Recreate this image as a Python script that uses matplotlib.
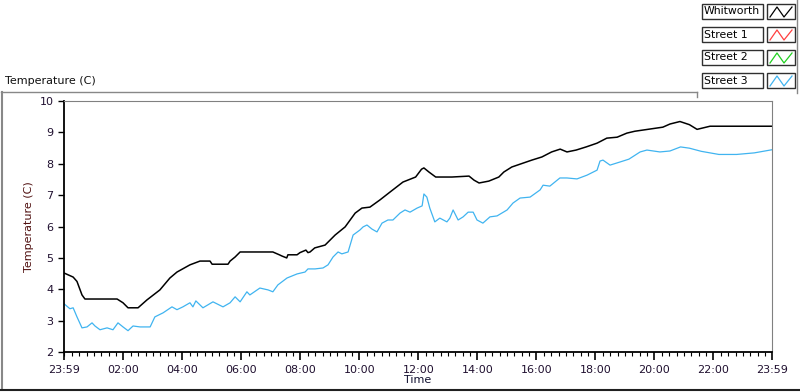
import matplotlib.pyplot as plt
from matplotlib.lines import Line2D
from matplotlib.patches import Rectangle
import numpy as np

# hours since 23:59 and temperatures
whit_t = [0, 0.31, 0.44, 0.61, 0.71, 1.8, 2.0, 2.17, 2.51, 2.81, 3.25, 3.59, 3.83,
          4.27, 4.61, 4.95, 5.02, 5.56, 5.63, 5.8, 5.97, 7.08, 7.3, 7.39, 7.55, 7.59,
          7.9, 8.0, 8.2, 8.27, 8.34, 8.5, 8.85, 9.19, 9.53, 9.87, 10.1, 10.37, 10.71,
          11.05, 11.49, 11.92, 12.12, 12.2, 12.37, 12.6, 13.15, 13.73, 13.9, 14.07,
          14.4, 14.74, 14.91, 15.18, 15.86, 16.2, 16.53, 16.82, 17.05, 17.36, 17.7,
          18.07, 18.4, 18.75, 19.08, 19.35, 20.3, 20.54, 20.88, 21.2, 21.46, 21.9, 24]
whit_v = [4.52, 4.39, 4.25, 3.82, 3.69, 3.69, 3.57, 3.41, 3.41, 3.66, 3.98, 4.36, 4.55,
          4.78, 4.9, 4.9, 4.8, 4.8, 4.9, 5.03, 5.19, 5.19, 5.1, 5.06, 5.0, 5.1,
          5.1, 5.17, 5.25, 5.17, 5.19, 5.32, 5.41, 5.73, 5.99, 6.43, 6.59, 6.62, 6.85,
          7.1, 7.42, 7.58, 7.83, 7.87, 7.74, 7.58, 7.58, 7.61, 7.48, 7.39,
          7.45, 7.58, 7.74, 7.9, 8.12, 8.22, 8.38, 8.47, 8.38, 8.44, 8.54,
          8.66, 8.82, 8.85, 8.98, 9.04, 9.17, 9.27, 9.35, 9.25, 9.1, 9.2, 9.2]

st3_t = [0, 0.2, 0.31, 0.44, 0.61, 0.78, 0.95, 1.05, 1.22, 1.46, 1.66, 1.83, 2.0,
         2.17, 2.34, 2.58, 2.92, 3.08, 3.36, 3.66, 3.83, 4.03, 4.27, 4.37, 4.47,
         4.71, 5.05, 5.39, 5.63, 5.8, 5.97, 6.2, 6.3, 6.64, 6.92, 7.08, 7.25, 7.56,
         7.9, 8.17, 8.27, 8.51, 8.78, 8.95, 9.12, 9.29, 9.42, 9.63, 9.8, 10.03, 10.14,
         10.27, 10.44, 10.61, 10.78, 10.98, 11.15, 11.39, 11.56, 11.73, 11.97, 12.14,
         12.2, 12.3, 12.4, 12.57, 12.74, 12.98, 13.08, 13.19, 13.36, 13.53, 13.7,
         13.87, 14.0, 14.2, 14.44, 14.68, 15.02, 15.22, 15.46, 15.8, 16.14, 16.24,
         16.47, 16.81, 17.05, 17.39, 17.73, 18.07, 18.17, 18.27, 18.51, 18.85, 19.15,
         19.53, 19.76, 20.2, 20.54, 20.9, 21.2, 21.6, 22.2, 22.8, 23.4, 24]
st3_v = [3.54, 3.38, 3.41, 3.12, 2.77, 2.8, 2.93, 2.83, 2.71, 2.77, 2.71, 2.93, 2.8,
         2.68, 2.83, 2.8, 2.8, 3.12, 3.25, 3.44, 3.35, 3.44, 3.57, 3.44, 3.63,
         3.41, 3.6, 3.44, 3.57, 3.76, 3.6, 3.92, 3.82, 4.04, 3.98, 3.92, 4.14, 4.36,
         4.49, 4.55, 4.65, 4.65, 4.68, 4.78, 5.03, 5.19, 5.13, 5.19, 5.73, 5.89, 5.99,
         6.05, 5.92, 5.83, 6.11, 6.21, 6.21, 6.43, 6.53, 6.46, 6.59, 6.66,
         7.04, 6.94, 6.59, 6.15, 6.27, 6.15, 6.27, 6.53, 6.21, 6.31, 6.46,
         6.46, 6.21, 6.11, 6.31, 6.34, 6.53, 6.75, 6.91, 6.94, 7.17, 7.32,
         7.29, 7.55, 7.55, 7.52, 7.64, 7.8, 8.09, 8.12, 7.96, 8.06, 8.15,
         8.38, 8.44, 8.38, 8.41, 8.54, 8.5, 8.4, 8.3, 8.3, 8.35, 8.45]

series = ['Whitworth', 'Street 1', 'Street 2', 'Street 3']
colors = ['#000000', '#ff4040', '#20d020', '#40b4f0']

major_t = [0] + [1 / 60 + 2 * k for k in range(1, 12)] + [24]
major_lab = ['23:59'] + ['%02d:00' % (2 * k) for k in range(1, 12)] + ['23:59']
minor_t = [1 / 60 + 0.25 * k for k in range(96)]

fig = plt.figure(figsize=(8, 3.92), dpi=100)
plt.rcParams['font.family'] = 'DejaVu Sans'
ax = fig.add_axes([0.08, 0.102, 0.885, 0.640])

ax.plot(whit_t, whit_v, color=colors[0], lw=1.1)
ax.plot(st3_t, st3_v, color=colors[3], lw=0.9)

ax.set_xlim(0, 24)
ax.set_ylim(2, 10)
ax.set_xticks(major_t)
ax.set_xticklabels(major_lab)
ax.set_xticks(minor_t, minor=True)
ax.set_yticks(range(2, 11))
ax.tick_params(axis='both', labelsize=8, colors='black', labelcolor='#201030')
ax.tick_params(axis='x', which='major', length=6, width=1.2)
ax.tick_params(axis='x', which='minor', length=3, width=0.8)
ax.tick_params(axis='y', length=4, width=1)
for s in ['top', 'right']:
    ax.spines[s].set_color('#808080')
for s in ['left', 'bottom']:
    ax.spines[s].set_linewidth(1.3)
ax.set_xlabel('Time', fontsize=8, labelpad=0, color='#101030')
ax.set_ylabel('Temperature (C)', fontsize=8, labelpad=4, color='#501010')

# panel frame
fig.add_artist(Line2D([0.001, 697 / 800], [1 - 92 / 392] * 2, color='#888888', lw=1))
fig.add_artist(Line2D([697 / 800] * 2, [1 - 92 / 392, 1 - 97 / 392], color='#888888', lw=1))
fig.add_artist(Line2D([0.002] * 2, [1 - 92 / 392, 0.01], color='#888888', lw=1.5))
fig.add_artist(Line2D([0, 1], [0.006, 0.006], color='#202020', lw=1.5))
fig.add_artist(Line2D([797 / 800] * 2, [1, 1 - 93 / 392], color='#888888', lw=1))
fig.text(5 / 800, 1 - 81 / 392, 'Temperature (C)', fontsize=8, va='center', color='#101010')

# legend
for i, (name, c) in enumerate(zip(series, colors)):
    top = 4 + 23 * i
    y0 = 1 - (top + 15) / 392
    h = 15 / 392
    fig.add_artist(Rectangle((702 / 800, y0), 61 / 800, h, fill=False, ec='#303030', lw=1))
    fig.add_artist(Rectangle((767 / 800, y0), 28 / 800, h, fill=False, ec='#303030', lw=1))
    fig.text(704 / 800, y0 + h / 2, name, fontsize=7.8, va='center', color='black')
    zx = np.array([770, 777, 784, 792]) / 800
    zy = y0 + np.array([2, 12, 2, 12]) / 392
    fig.add_artist(Line2D(zx, zy, color=c, lw=0.9))

fig.savefig('out.png', dpi=100)
